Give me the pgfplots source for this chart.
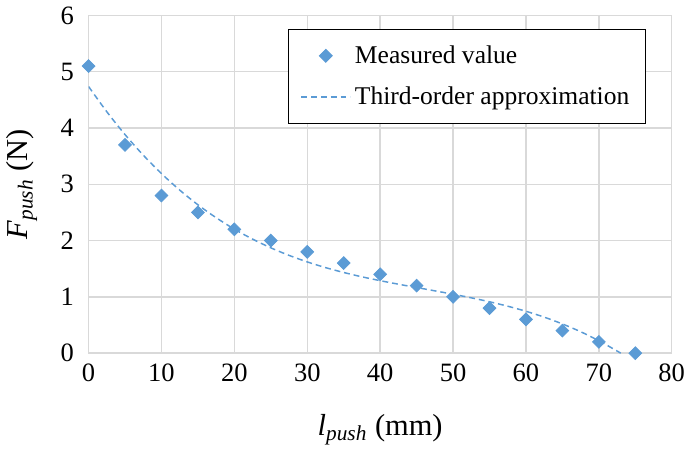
\documentclass[border=0pt]{standalone}
\usepackage{fontspec}
\setmainfont{Liberation Serif}
\usepackage{pgfplots}
\pgfplotsset{compat=1.18}
\definecolor{ptblue}{HTML}{5B9BD5}
\definecolor{gridgray}{HTML}{D9D9D9}
\pgfplotsset{
    markleg/.style={legend image code/.code={\draw[mark repeat=2,mark phase=2,##1]
        plot coordinates {(0pt,0pt)(12.5pt,0pt)(25pt,0pt)};}},
    lineleg/.style={legend image code/.code={\draw[##1] (0pt,0pt) -- (25pt,0pt);}},
}

\begin{document}
\begin{tikzpicture}
\begin{axis}[
    width=297pt, height=172pt, scale only axis,
    xmin=0, xmax=80, ymin=0, ymax=6,
    xtick={0,10,...,80}, ytick={0,1,...,6},
    grid=major,
    major grid style={gridgray, line width=0.75pt},
    axis line style={gridgray, line width=0.75pt},
    major tick length=0pt,
    tick label style={font=\fontsize{13.5}{15}\selectfont},
    /pgf/number format/assume math mode=true,
    xticklabel style={yshift=-2pt, inner xsep=0pt},
    yticklabel style={xshift=-4pt},
    xlabel={\textit{l}\textsubscript{\textit{push}} (mm)},
    ylabel={\textit{F}\textsubscript{\textit{push}} (N)},
    label style={font=\fontsize{15.5}{18}\selectfont},
    xlabel shift=9.5pt,
    ylabel shift=5pt,
    legend style={at={(0.955,0.959)}, anchor=north east,
        draw=black, line width=0.5pt,
        font=\fontsize{13}{15}\selectfont,
        row sep=6.5pt, inner xsep=6pt, inner ysep=6pt},
    legend cell align=left,
]
    \addplot[only marks, mark=square*, mark size=2.3pt,
        mark options={rotate=45, fill=ptblue, draw=ptblue}, markleg]
    coordinates {
        (0,5.1) (5,3.7) (10,2.8) (15,2.5) (20,2.2) (25,2.0) (30,1.8) (35,1.6)
        (40,1.4) (45,1.2) (50,1.0) (55,0.8) (60,0.6) (65,0.4) (70,0.2) (75,0.0)
    };
    \addlegendentry{Measured value}
    % third-order fit
    \addplot[ptblue, line width=0.75pt, dash pattern=on 3pt off 2pt, smooth, lineleg]
    coordinates {
        (0,4.737) (2.5,4.289) (5,3.883) (7.5,3.518) (10,3.190) (12.5,2.897)
        (15,2.636) (17.5,2.406) (20,2.203) (22.5,2.026) (25,1.871) (27.5,1.737)
        (30,1.621) (32.5,1.520) (35,1.433) (37.5,1.356) (40,1.288) (42.5,1.225)
        (45,1.166) (47.5,1.107) (50,1.047) (52.5,0.983) (55,0.913) (57.5,0.834)
        (60,0.744) (62.5,0.640) (65,0.519) (67.5,0.381) (70,0.221) (72.5,0.038)
        (73,0)
    };
    \addlegendentry{Third-order approximation}
\end{axis}
\end{tikzpicture}
\end{document}
